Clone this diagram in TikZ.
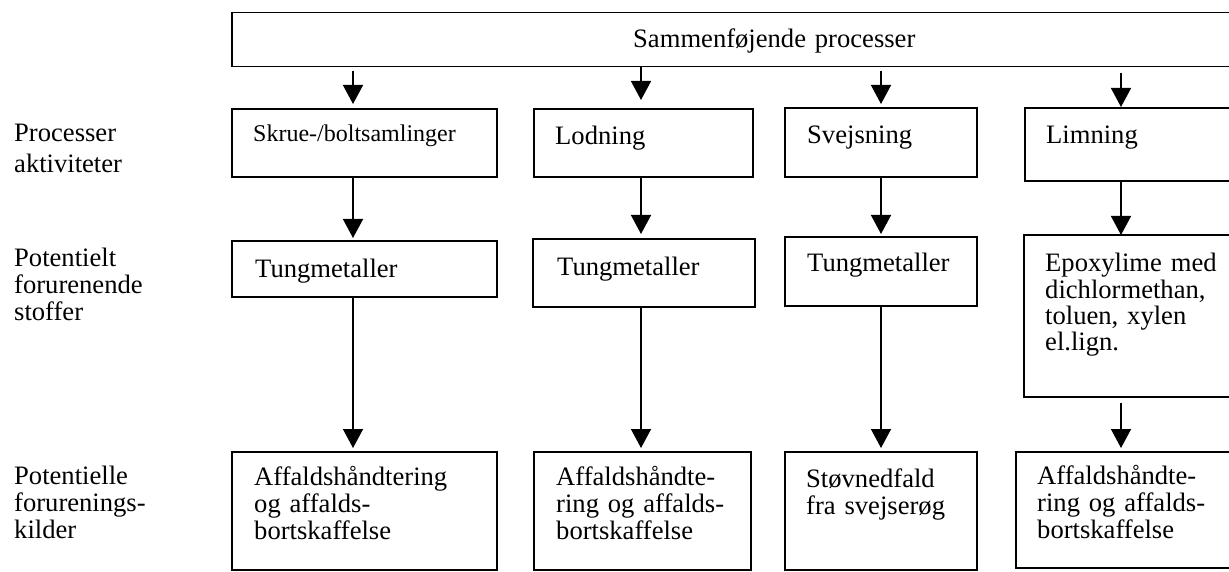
\documentclass[tikz,border=0pt]{standalone}
\usepackage{fontspec}
\setmainfont{Liberation Serif}
\usetikzlibrary{arrows.meta,calc}

\begin{document}
\begin{tikzpicture}[x=1pt,y=-1pt,
  box/.style={draw, line width=1.5pt, rectangle, inner sep=0pt, outer sep=0pt, anchor=north west},
  txt/.style={inner sep=0pt, anchor=base west, align=left, text width=300pt,
              font=\fontsize{26.6}{27}\selectfont},
  small/.style={font=\fontsize{24}{27}\selectfont},
  arr/.style={line width=1.5pt, -{Triangle[length=19pt,width=20pt]}}
]
\useasboundingbox (0,0) rectangle (1229,572);
\fill[white] (0,0) rectangle (1229,572);
\clip (0,0) rectangle (1229,572);

% heading box, running off the right edge
\node[box, minimum width=1100pt, minimum height=54pt] (top) at (232,12.7) {};
\node[txt] (ttop) at (633,48) {Sammenføjende processer};

% row labels
\node[txt, font=\fontsize{26.6}{30.5}\selectfont] (l1) at (14,142) {Processer\\aktiviteter};
\node[txt] (l2) at (14,266) {Potentielt\\forurenende\\stoffer};
\node[txt] (l3) at (14,484) {Potentielle\\forurenings-\\kilder};

% processes
\node[box, minimum width=265pt, minimum height=68pt] (p1) at (232,109) {};
\node[box, minimum width=219pt, minimum height=68pt] (p2) at (534,109) {};
\node[box, minimum width=192pt, minimum height=69pt] (p3) at (785,108) {};
\node[box, minimum width=215pt, minimum height=73pt] (p4) at (1025,108) {};
\node[txt, small] (tp1) at (253,142) {Skrue-/boltsamlinger};
\node[txt] (tp2) at (555,145) {Lodning};
\node[txt] (tp3) at (807,144) {Svejsning};
\node[txt] (tp4) at (1046,144) {Limning};

% substances
\node[box, minimum width=265pt, minimum height=56pt] (s1) at (232,241) {};
\node[box, minimum width=222pt, minimum height=68pt] (s2) at (533,239) {};
\node[box, minimum width=192pt, minimum height=69pt] (s3) at (785,237) {};
\node[box, minimum width=216pt, minimum height=162pt] (s4) at (1024,235) {};
\node[txt] (ts1) at (255,277) {Tungmetaller};
\node[txt] (ts2) at (557,275) {Tungmetaller};
\node[txt] (ts3) at (807,272) {Tungmetaller};
\node[txt, font=\fontsize{26.6}{26.2}\selectfont] (ts4) at (1045,272) {Epoxylime med\\dichlormethan,\\toluen, xylen\\el.lign.};

% sources
\node[box, minimum width=265pt, minimum height=118pt] (k1) at (232,452) {};
\node[box, minimum width=217pt, minimum height=118pt] (k2) at (534,452) {};
\node[box, minimum width=192pt, minimum height=118pt] (k3) at (785,452) {};
\node[box, minimum width=224pt, minimum height=116pt] (k4) at (1016,452) {};
\node[txt] (tk1) at (254,485) {Affaldshåndtering\\og affalds-\\bortskaffelse};
\node[txt] (tk2) at (556,485) {Affaldshåndte-\\ring og affalds-\\bortskaffelse};
\node[txt] (tk3) at (806,487) {Støvnedfald\\fra svejserøg};
\node[txt] (tk4) at (1037,484) {Affaldshåndte-\\ring og affalds-\\bortskaffelse};

% arrow columns
\coordinate (c1) at (353,0);
\coordinate (c2) at (641,0);
\coordinate (c3) at (881,0);
\coordinate (c4) at (1121,0);

\draw[arr, shorten <=4pt, shorten >=5pt] (top.south -| c1) -- (p1.north -| c1);
\draw[arr, shorten >=9pt] (top.south -| c2) -- (p2.north -| c2);
\draw[arr, shorten <=4pt, shorten >=4pt] (top.south -| c3) -- (p3.north -| c3);
\draw[arr, shorten <=6pt, shorten >=1pt] (top.south -| c4) -- (p4.north -| c4);

\draw[arr, shorten >=3pt] (p1.south -| c1) -- (s1.north -| c1);
\draw[arr, shorten >=5pt] (p2.south -| c2) -- (s2.north -| c2);
\draw[arr, shorten >=3pt] (p3.south -| c3) -- (s3.north -| c3);
\draw[arr] (p4.south -| c4) -- (s4.north -| c4);

\draw[arr, shorten >=4pt] (s1.south -| c1) -- (k1.north -| c1);
\draw[arr, shorten >=4pt] (s2.south -| c2) -- (k2.north -| c2);
\draw[arr, shorten >=4pt] (s3.south -| c3) -- (k3.north -| c3);
\draw[arr, shorten <=6pt, shorten >=4pt] (s4.south -| c4) -- (k4.north -| c4);
\end{tikzpicture}
\end{document}
